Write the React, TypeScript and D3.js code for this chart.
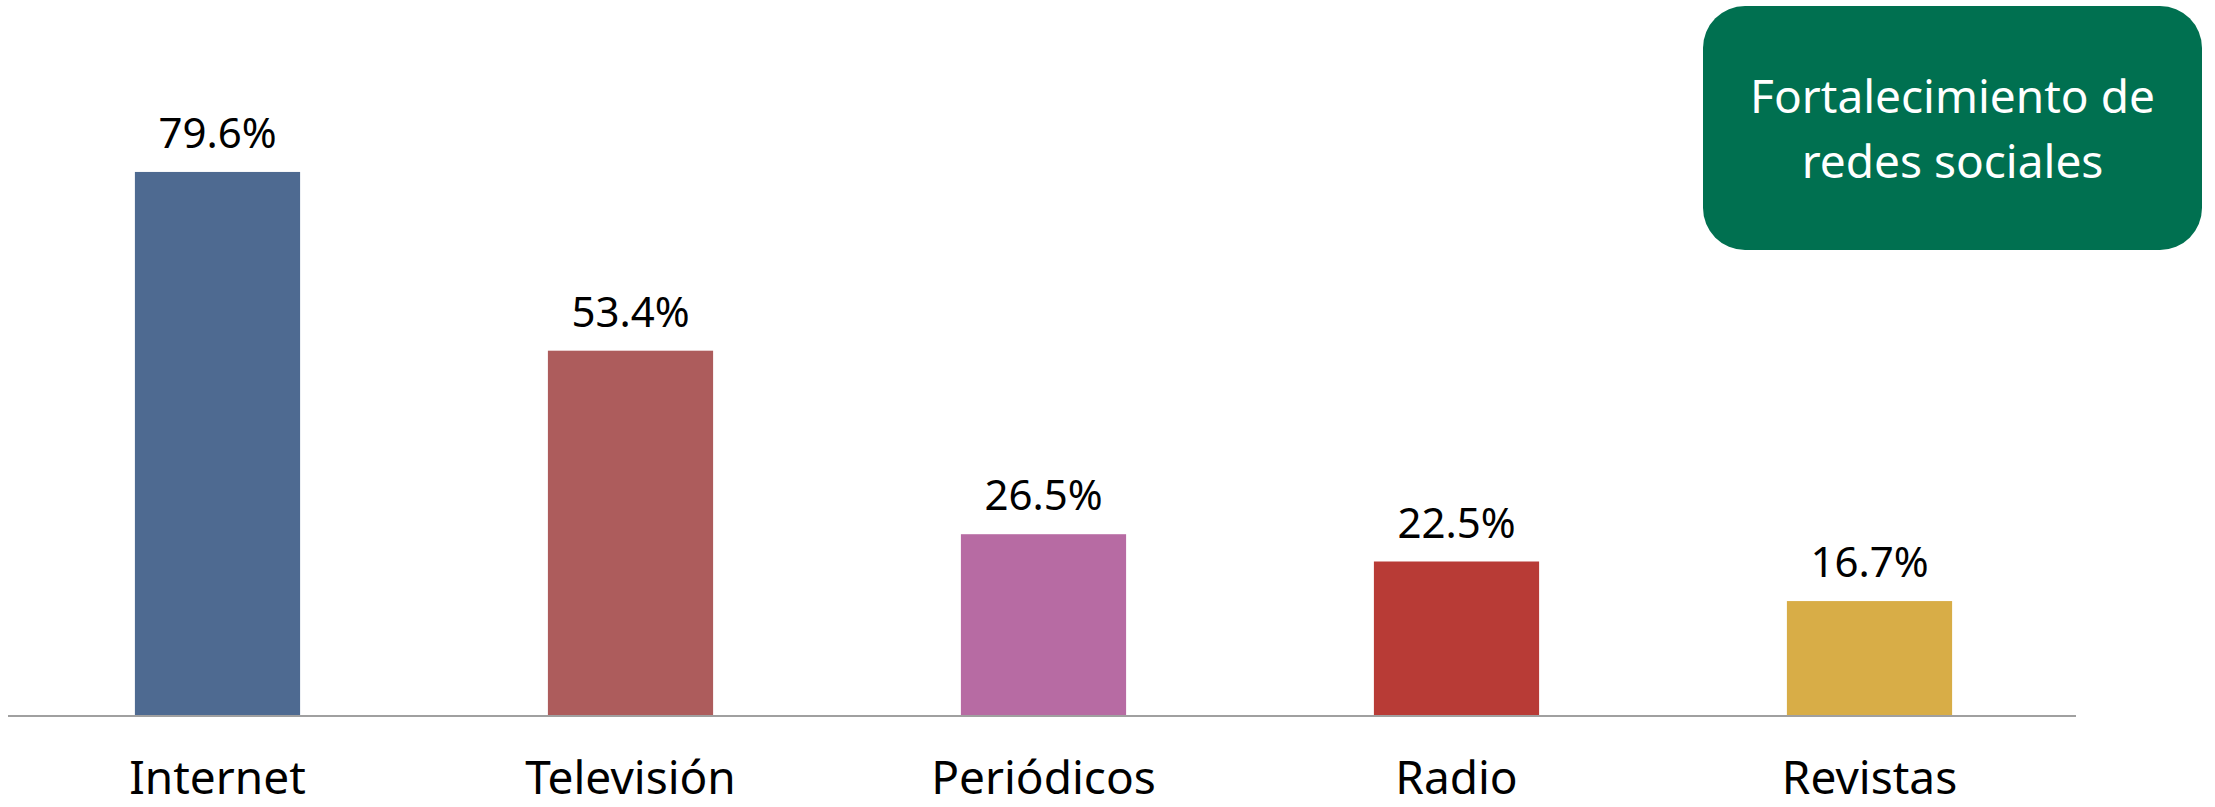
import React from "react";
import * as d3 from "d3";

const categories = ["Internet", "Televisión", "Periódicos", "Radio", "Revistas"];
const values = [79.6, 53.4, 26.5, 22.5, 16.7];
const barColors = ["#4E6A91", "#AD5C5C", "#B76BA3", "#B83B36", "#D8AD47"];
const boxLines = ["Fortalecimiento de", "redes sociales"];

const W = 2215;
const H = 807;
const FONT = "'Noto Sans', 'Open Sans', sans-serif";

export default function App() {
  const x = d3.scaleBand<string>().domain(categories).range([11, 2076]).paddingInner(0.6).paddingOuter(0.3);
  const y = d3.scaleLinear().domain([0, 90]).range([715, 101]);

  return (
    <svg width={W} height={H} style={{ position: "absolute", left: 0, top: 0, background: "#fff" }}>
      {categories.map((c, i) => {
        const bx = x(c)!;
        const bw = x.bandwidth();
        const cx = bx + bw / 2;
        return (
          <g key={c}>
            <rect x={bx} y={y(values[i])} width={bw} height={y(0) - y(values[i])} fill={barColors[i]} />
            <text x={cx} y={y(values[i]) - 24} textAnchor="middle" fontFamily={FONT} fontSize={42} fill="#000">
              {values[i].toFixed(1) + "%"}
            </text>
            <text x={cx} y={794} textAnchor="middle" fontFamily={FONT} fontSize={46} fill="#000">
              {c}
            </text>
          </g>
        );
      })}
      <line x1={8} x2={2076} y1={y(0) + 1} y2={y(0) + 1} stroke="#A0A0A0" strokeWidth={2} />
      <rect x={1703} y={6} width={499} height={244} rx={42} ry={42} fill="#007050" />
      {boxLines.map((t, i) => (
        <text key={t} x={1952.5} y={113 + i * 65} textAnchor="middle" fontFamily={FONT} fontSize={46} fill="#fff">
          {t}
        </text>
      ))}
    </svg>
  );
}
